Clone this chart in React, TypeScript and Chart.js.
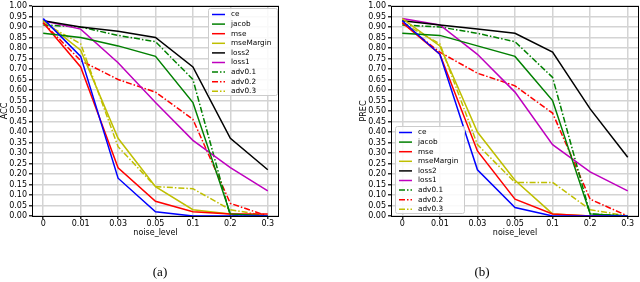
import React, { useEffect, useRef } from "react";
import { Chart, registerables } from "chart.js";

Chart.register(...registerables);

// ---------- data ----------
const noiseLevels = ["0", "0.01", "0.03", "0.05", "0.1", "0.2", "0.3"];
const yTickValues = [0, 0.05, 0.1, 0.15, 0.2, 0.25, 0.3, 0.35, 0.4, 0.45, 0.5, 0.55, 0.6, 0.65, 0.7, 0.75, 0.8, 0.85, 0.9, 0.95, 1.0];

const seriesNames = ["ce", "jacob", "mse", "mseMargin", "loss2", "loss1", "adv0.1", "adv0.2", "adv0.3"];

// (a) ACC
const accCe = [0.94, 0.76, 0.18, 0.02, 0.0, 0.0, 0.0];
const accJacob = [0.87, 0.85, 0.81, 0.76, 0.54, 0.01, 0.0];
const accMse = [0.92, 0.71, 0.23, 0.07, 0.02, 0.01, 0.01];
const accMseMargin = [0.93, 0.79, 0.37, 0.14, 0.03, 0.01, 0.0];
const accLoss2 = [0.93, 0.9, 0.88, 0.85, 0.71, 0.37, 0.22];
const accLoss1 = [0.93, 0.89, 0.73, 0.54, 0.36, 0.23, 0.12];
const accAdv01 = [0.91, 0.9, 0.86, 0.83, 0.65, 0.0, 0.0];
const accAdv02 = [0.92, 0.74, 0.65, 0.59, 0.46, 0.06, 0.0];
const accAdv03 = [0.92, 0.82, 0.33, 0.14, 0.13, 0.03, 0.0];

// (b) PREC
const precCe = [0.93, 0.77, 0.22, 0.04, 0.0, 0.0, 0.0];
const precJacob = [0.87, 0.86, 0.81, 0.76, 0.55, 0.01, 0.0];
const precMse = [0.92, 0.77, 0.31, 0.08, 0.01, 0.0, 0.0];
const precMseMargin = [0.94, 0.81, 0.4, 0.17, 0.01, 0.0, 0.0];
const precLoss2 = [0.93, 0.91, 0.89, 0.87, 0.78, 0.51, 0.28];
const precLoss1 = [0.94, 0.91, 0.77, 0.59, 0.34, 0.21, 0.12];
const precAdv01 = [0.91, 0.9, 0.87, 0.83, 0.66, 0.01, 0.0];
const precAdv02 = [0.92, 0.78, 0.68, 0.62, 0.49, 0.08, 0.0];
const precAdv03 = [0.92, 0.82, 0.34, 0.16, 0.16, 0.03, 0.0];

const accSeries = [accCe, accJacob, accMse, accMseMargin, accLoss2, accLoss1, accAdv01, accAdv02, accAdv03];
const precSeries = [precCe, precJacob, precMse, precMseMargin, precLoss2, precLoss1, precAdv01, precAdv02, precAdv03];

// ---------- styles ----------
const seriesColors = ["#0000ff", "#008000", "#ff0000", "#bfbf00", "#000000", "#bf00bf", "#008000", "#ff0000", "#bfbf00"];
const DASHDOT = [6, 2, 1.5, 2];
const seriesDashed = [false, false, false, false, false, false, true, true, true];

const FONT = "'DejaVu Sans', sans-serif";

function buildDatasets(series: number[][]) {
  return series.map((vals, i) => ({
    label: seriesNames[i],
    data: vals.map((v, j) => ({ x: j, y: v })),
    borderColor: seriesColors[i],
    backgroundColor: seriesColors[i],
    borderWidth: 1.5,
    borderDash: seriesDashed[i] ? DASHDOT : [],
    pointRadius: 0,
    tension: 0,
    fill: false,
  }));
}

const framePlugin = {
  id: "frame",
  afterDatasetsDraw(chart: any) {
    const { ctx, chartArea } = chart;
    ctx.save();
    ctx.strokeStyle = "#000";
    ctx.lineWidth = 1;
    ctx.setLineDash([]);
    ctx.strokeRect(
      Math.round(chartArea.left) + 0.5,
      Math.round(chartArea.top) + 0.5,
      Math.round(chartArea.right - chartArea.left) - 1,
      Math.round(chartArea.bottom - chartArea.top)
    );
    ctx.restore();
  },
};

function makeLegendPlugin(corner: "tr" | "bl") {
  return {
    id: "boxLegend",
    afterDraw(chart: any) {
      const { ctx, chartArea } = chart;
      const w = 69;
      const h = 87;
      const rowH = 9.6;
      let x0: number, y0: number;
      if (corner === "tr") {
        x0 = Math.round(chartArea.right) - 2 - w;
        y0 = Math.round(chartArea.top) + 2;
      } else {
        x0 = Math.round(chartArea.left) + 4;
        y0 = Math.round(chartArea.bottom) - 3 - h;
      }
      ctx.save();
      ctx.setLineDash([]);
      ctx.beginPath();
      (ctx as any).roundRect(x0 + 0.5, y0 + 0.5, w, h, 2);
      ctx.fillStyle = "rgba(255,255,255,0.85)";
      ctx.fill();
      ctx.strokeStyle = "#cccccc";
      ctx.lineWidth = 1;
      ctx.stroke();
      ctx.font = `7.3px ${FONT}`;
      ctx.textBaseline = "middle";
      ctx.textAlign = "left";
      chart.data.datasets.forEach((ds: any, i: number) => {
        const cy = y0 + 6.5 + i * rowH;
        ctx.beginPath();
        ctx.setLineDash(ds.borderDash || []);
        ctx.strokeStyle = ds.borderColor;
        ctx.lineWidth = 1.5;
        ctx.moveTo(x0 + 4, cy);
        ctx.lineTo(x0 + 17, cy);
        ctx.stroke();
        ctx.setLineDash([]);
        ctx.fillStyle = "#000";
        ctx.fillText(ds.label, x0 + 23, cy);
      });
      ctx.restore();
    },
  };
}

type PanelProps = {
  series: number[][];
  yTitle: string;
  corner: "tr" | "bl";
  left: number;
  width: number;
  rightPad: number;
};

function Panel({ series, yTitle, corner, left, width, rightPad }: PanelProps) {
  const ref = useRef<HTMLCanvasElement>(null);
  useEffect(() => {
    if (!ref.current) return;
    const grid = {
      color: "#d4d4d4",
      lineWidth: 1.5,
      tickColor: "#333",
      tickLength: 3,
      drawTicks: true,
    };
    const chart = new Chart(ref.current, {
      type: "line",
      data: { datasets: buildDatasets(series) as any },
      options: {
        responsive: false,
        animation: false,
        events: [],
        layout: { padding: { left: 0, right: rightPad, top: 4, bottom: 2 } },
        plugins: { legend: { display: false }, tooltip: { enabled: false } },
        scales: {
          x: {
            type: "linear",
            min: -0.3,
            max: 6.3,
            grid,
            border: { display: false },
            afterBuildTicks: (scale: any) => {
              scale.ticks = noiseLevels.map((_, i) => ({ value: i }));
            },
            afterFit: (scale: any) => {
              scale.height = 22;
            },
            ticks: {
              autoSkip: false,
              maxRotation: 0,
              padding: 0,
              color: "#000",
              font: { family: FONT, size: 8 },
              callback: (_v: any, i: number) => noiseLevels[i],
            },
            title: {
              display: true,
              text: "noise_level",
              color: "#000",
              font: { family: FONT, size: 8 },
              padding: 0,
            },
          },
          y: {
            type: "linear",
            min: 0,
            max: 1,
            grid,
            border: { display: false },
            afterBuildTicks: (scale: any) => {
              scale.ticks = yTickValues.map((v) => ({ value: v }));
            },
            afterFit: (scale: any) => {
              scale.width = 32;
            },
            ticks: {
              autoSkip: false,
              padding: 2,
              color: "#000",
              font: { family: FONT, size: 8, lineHeight: 1 },
              callback: (v: any) => Number(v).toFixed(2),
            },
            title: {
              display: true,
              text: yTitle,
              color: "#000",
              font: { family: FONT, size: 8 },
              padding: 0,
            },
          },
        },
      },
      plugins: [framePlugin, makeLegendPlugin(corner)],
    });
    return () => chart.destroy();
  }, []);
  return (
    <canvas
      ref={ref}
      width={width}
      height={240}
      style={{ position: "absolute", left, top: 0, width, height: 240 }}
    />
  );
}

const captionStyle: React.CSSProperties = {
  position: "absolute",
  top: 264,
  fontFamily: "'Liberation Serif', 'DejaVu Serif', serif",
  fontSize: 13,
  fontWeight: 400,
  lineHeight: "16px",
  color: "rgb(0,0,0)",
  width: 40,
  textAlign: "center",
  willChange: "transform",
};

export default function App() {
  return (
    <div
      style={{
        position: "absolute",
        left: 0,
        top: 0,
        width: 640,
        height: 282,
        background: "#fff",
        overflow: "hidden",
      }}
    >
      <Panel series={accSeries} yTitle="ACC" corner="tr" left={0} width={290} rightPad={11} />
      <Panel series={precSeries} yTitle="PREC" corner="bl" left={359} width={281} rightPad={1} />
      <div style={{ ...captionStyle, left: 140 }}>(a)</div>
      <div style={{ ...captionStyle, left: 462 }}>(b)</div>
    </div>
  );
}
